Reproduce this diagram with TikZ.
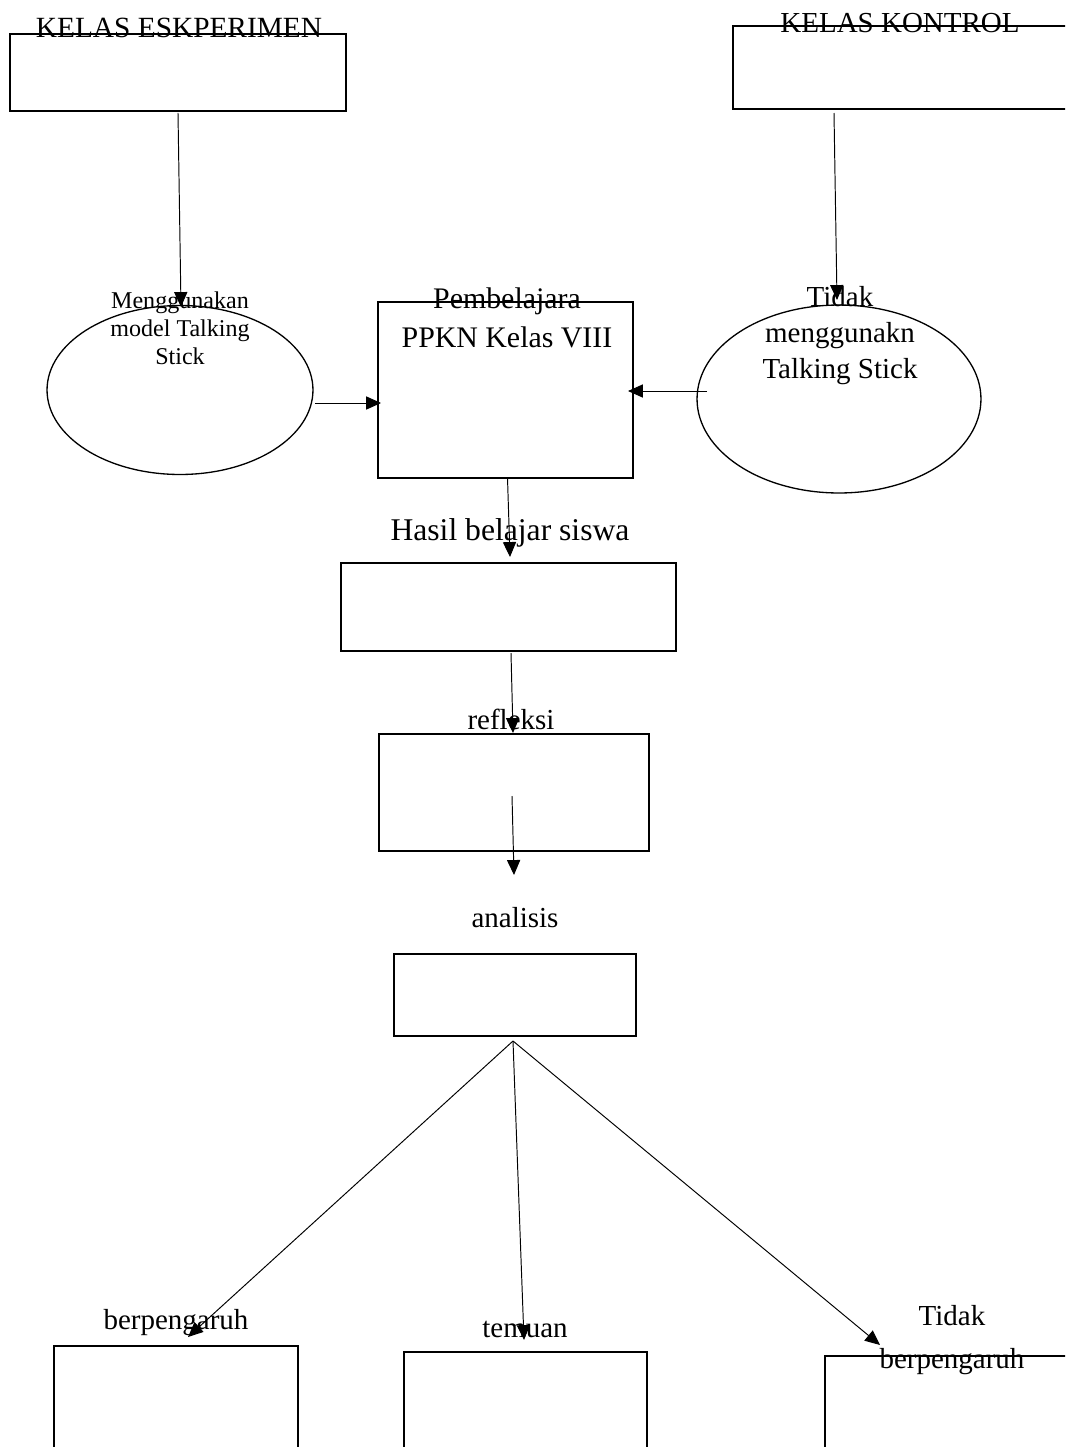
\documentclass[tikz,border=0pt]{standalone}
\usepackage{fontspec}
\setmainfont{Liberation Serif}
\usetikzlibrary{arrows.meta,shapes.geometric,positioning}

\begin{document}
\begin{tikzpicture}[x=0.02cm,y=-0.02cm,
	kotak/.style={draw,line width=0.75pt,inner sep=0pt,outer sep=0pt},
	elips/.style={draw,ellipse,line width=0.75pt,inner sep=0pt,outer sep=0pt},
	panah/.style={line width=0.55pt,-{Triangle[length=8.5pt,width=7.5pt]}},
	teks/.style={font=\fontsize{16.5}{21}\selectfont,align=center,inner sep=0pt}]
	\path[use as bounding box] (0,0) rectangle (1065,1447);
	\clip (0,0) rectangle (1065,1447);

	\node[kotak,minimum width=6.72cm,minimum height=1.54cm] (eksp) at (178,72.5) {};
	\node[kotak,minimum width=6.94cm,minimum height=1.66cm] (kont) at (906.5,67.5) {};
	\node[elips,minimum width=5.32cm,minimum height=3.38cm] (pakai) at (180,390) {};
	\node[kotak,minimum width=5.1cm,minimum height=3.52cm] (ppkn) at (505.5,390) {};
	\node[elips,minimum width=5.68cm,minimum height=3.76cm] (tanpa) at (839,399) {};
	\node[kotak,minimum width=6.7cm,minimum height=1.76cm] (hasil) at (508.5,607) {};
	\node[kotak,minimum width=5.4cm,minimum height=2.34cm] (refl) at (514,792.5) {};
	\node[kotak,minimum width=4.84cm,minimum height=1.64cm] (anal) at (515,995) {};
	\node[kotak,minimum width=4.88cm,minimum height=3.08cm] (pengaruh) at (176,1423) {};
	\node[kotak,minimum width=4.86cm,minimum height=2.96cm] (temu) at (525.5,1426) {};
	\node[kotak,minimum width=5.1cm,minimum height=2.88cm] (tidak) at (952.5,1428) {};

	\node[teks,font=\fontsize{16.7}{21}\selectfont] (teksE) at (179,28) {KELAS ESKPERIMEN};
	\node[teks] (teksK) at (900,23) {KELAS KONTROL};
	\node[teks,font=\fontsize{13.7}{16}\selectfont] (teksL) at (180,328) {Menggunakan\\model Talking\\Stick};
	\node[teks,font=\fontsize{17}{22}\selectfont] (teksP) at (507,318) {Pembelajara\\PPKN Kelas VIII};
	\node[teks,font=\fontsize{16.5}{20.5}\selectfont] (teksR) at (840,336) {Tidak\\menggunakn\\Talking Stick};
	\node[teks,font=\fontsize{18}{21}\selectfont] (teksH) at (510,533) {Hasil belajar siswa};
	\node[teks] (teksRf) at (511,719) {refleksi};
	\node[teks] (teksA) at (515,918) {analisis};
	\node[teks] (teksB1) at (176,1323) {berpengaruh};
	\node[teks] (teksB2) at (525,1329) {temuan};
	\node[teks,font=\fontsize{16.5}{24.5}\selectfont] (teksB3) at (952,1340) {Tidak\\berpengaruh};

	\coordinate (k1) at (834,113);
	\coordinate (k2) at (837,300);
	\coordinate (l1) at (315,403);
	\coordinate (l2) at (381,403);
	\coordinate (r1) at (707,391);
	\coordinate (r2) at (628,391);
	\coordinate (h2) at (510,557);
	\coordinate (f1) at (511,653);
	\coordinate (f2) at (513,733);
	\coordinate (a1) at (512,796);
	\coordinate (a2) at (514,875);
	\coordinate (pusat) at (513,1041);
	\coordinate (b1) at (188,1337);
	\coordinate (b2) at (524,1340);
	\coordinate (b3) at (880,1345);

	\draw[panah] ([yshift=-2*0.02cm]eksp.south) -- (181,307);
	\draw[panah] (k1) -- (k2);
	\draw[panah] (l1) -- (l2);
	\draw[panah] (r1) -- (r2);
	\draw[panah] (ppkn.south) ++(2,0) -- (h2);
	\draw[panah] (f1) -- (f2);
	\draw[panah] (a1) -- (a2);
	\foreach \ujung in {b1,b2,b3}
		\draw[panah] (pusat) -- (\ujung);
\end{tikzpicture}
\end{document}
